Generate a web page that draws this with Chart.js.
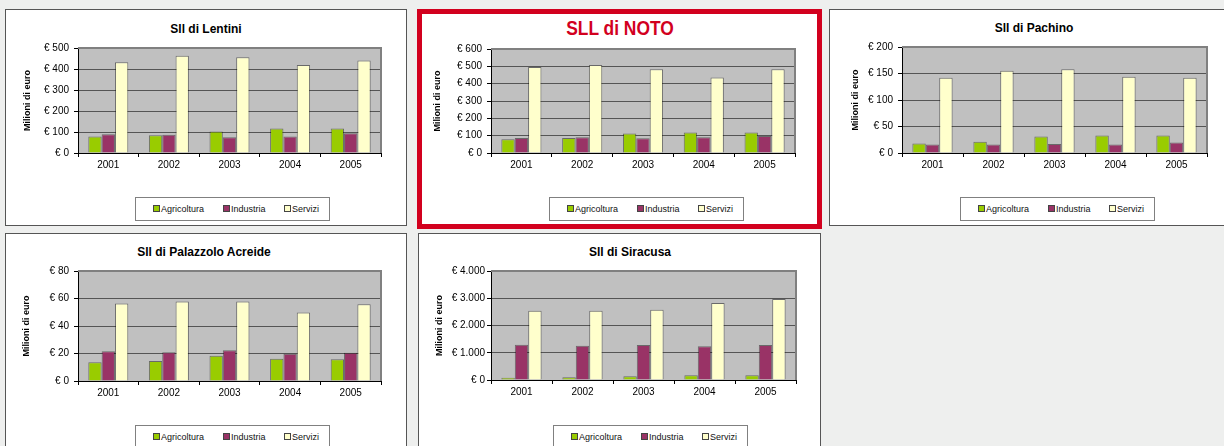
<!DOCTYPE html>
<html>
<head>
<meta charset="utf-8">
<script src="https://cdn.jsdelivr.net/npm/chart.js@4.4.0/dist/chart.umd.min.js"></script>
<style>
  html, body { margin: 0; padding: 0; }
  body { width: 1224px; height: 446px; overflow: hidden; background: #eeefee; position: relative;
         font-family: "Liberation Sans", Arial, sans-serif; }
  .panel { position: absolute; background: #fff; border: 1px solid #555; box-sizing: border-box; }
  .panel.red { border: 5px solid #d2001e; }
  canvas { position: absolute; }
  .title { position: absolute; width: 400px; text-align: center; font-weight: bold; color: #000; white-space: nowrap; }
  .legend { position: absolute; width: 195px; height: 24px; background: #fff; border: 1px solid #808080; box-sizing: border-box; }
  .legend .item { position: absolute; top: 0; height: 22px; line-height: 22px; font-size: 9px; color: #111; white-space: nowrap; }
  .legend .sw { display: inline-block; width: 5px; height: 5px; border: 1px solid #444; margin-right: 1px; vertical-align: -0px; }
</style>
</head>
<body>
<script>
// Categories and series
const years = ['2001', '2002', '2003', '2004', '2005'];
const seriesNames = ['Agricoltura', 'Industria', 'Servizi'];
const seriesColors = ['#99cc00', '#993366', '#ffffcc'];

// SLL di Lentini
const lentiniAgri = [79, 84, 102, 117, 117];
const lentiniInd = [89, 87, 75, 79, 94];
const lentiniServ = [432, 463, 456, 419, 440];

// SLL di Noto
const notoAgri = [79, 87, 112, 118, 118];
const notoInd = [87, 91, 85, 91, 98];
const notoServ = [496, 508, 483, 436, 483];

// SLL di Pachino
const pachinoAgri = [18, 21, 31, 33, 33];
const pachinoInd = [16, 16, 17, 16, 20];
const pachinoServ = [142, 155, 158, 144, 142];

// SLL di Palazzolo Acreide
const palazzoloAgri = [13.7, 14.5, 18.3, 16.1, 15.9];
const palazzoloInd = [21.7, 21.0, 22.4, 19.8, 20.5];
const palazzoloServ = [56.4, 57.8, 57.8, 49.9, 55.9];

// SLL di Siracusa
const siracusaAgri = [86, 98, 135, 171, 171];
const siracusaInd = [1297, 1260, 1284, 1235, 1284];
const siracusaServ = [2544, 2544, 2581, 2826, 2972];

// Axis ranges
const axisMax = [500, 600, 200, 80, 4000];
const axisStep = [100, 100, 50, 20, 1000];
const titles = ['Sll di Lentini', 'SLL di NOTO', 'Sll di Pachino', 'Sll di Palazzolo Acreide', 'Sll di Siracusa'];
const yTitle = 'Milioni di euro';

// Panel placement (page pixels): box, plot area, title centre, legend box, y title x
const panels = [
  { box: [5, 9, 407, 226], plot: [78, 48, 381, 153], title: [206, 29], legend: [135, 197], yTitleX: 28, tickPad: 5,
    data: [lentiniAgri, lentiniInd, lentiniServ] },
  { box: [417, 9, 822, 229], plot: [491, 49, 795, 153], title: [620, 28], legend: [549, 197], yTitleX: 437.5, tickPad: 5,
    data: [notoAgri, notoInd, notoServ], red: true },
  { box: [829, 9, 1240, 226], plot: [902, 47, 1207, 153], title: [1034, 28], legend: [960, 197], yTitleX: 856, tickPad: 5,
    data: [pachinoAgri, pachinoInd, pachinoServ] },
  { box: [5, 233, 407, 452], plot: [78, 271, 381, 381], title: [204, 252], legend: [135, 425], yTitleX: 26.5, tickPad: 5,
    data: [palazzoloAgri, palazzoloInd, palazzoloServ] },
  { box: [418, 233, 821, 452], plot: [491, 271, 796, 380], title: [630, 252], legend: [553, 425], yTitleX: 439.5, tickPad: 2,
    data: [siracusaAgri, siracusaInd, siracusaServ] }
];

// Italian number format: € 4.000
function euro(v) {
  return '€ ' + String(v).replace(/\B(?=(\d{3})+(?!\d))/g, '.');
}

// Grey 'wall' behind the bars, with darker top/right edge
const wallPlugin = {
  id: 'wall',
  beforeDraw(chart) {
    const a = chart.chartArea;
    const ctx = chart.ctx;
    ctx.save();
    ctx.fillStyle = '#c0c0c0';
    ctx.fillRect(a.left, a.top, a.right - a.left, a.bottom - a.top);
    ctx.restore();
  },
  beforeDatasetsDraw(chart) {
    const a = chart.chartArea;
    const ctx = chart.ctx;
    ctx.save();
    ctx.strokeStyle = '#808080';
    ctx.lineWidth = 2;
    ctx.beginPath();
    ctx.moveTo(a.left, a.top);
    ctx.lineTo(a.right, a.top);
    ctx.lineTo(a.right, a.bottom);
    ctx.stroke();
    ctx.restore();
  }
};

function addDiv(cls, css, text) {
  const d = document.createElement('div');
  d.className = cls;
  Object.assign(d.style, css);
  if (text) d.textContent = text;
  document.body.appendChild(d);
  return d;
}

panels.forEach((p, i) => {
  const [bx0, by0, bx1, by1] = p.box;
  const [px0, py0, px1, py1] = p.plot;
  const w = bx1 - bx0, h = by1 - by0;

  addDiv('panel' + (p.red ? ' red' : ''), { left: bx0 + 'px', top: by0 + 'px', width: w + 'px', height: h + 'px' });

  // title (the NOTO one is big, red and a bit condensed)
  const fs = p.red ? 20 : 12;
  addDiv('title', { left: (p.title[0] - 200) + 'px', top: (p.title[1] - fs * 0.6) + 'px',
    fontSize: fs + 'px', lineHeight: (fs * 1.2) + 'px', color: p.red ? '#d2001e' : '#000',
    transform: p.red ? 'scaleX(0.87)' : 'none' }, titles[i]);

  // legend
  const lg = addDiv('legend', { left: p.legend[0] + 'px', top: p.legend[1] + 'px' });
  const offs = [17, 87, 148];
  seriesNames.forEach((name, k) => {
    const it = document.createElement('div');
    it.className = 'item';
    it.style.left = offs[k] + 'px';
    const sw = document.createElement('span');
    sw.className = 'sw';
    sw.style.background = seriesColors[k];
    it.appendChild(sw);
    it.appendChild(document.createTextNode(name));
    lg.appendChild(it);
  });

  // chart canvas covers the panel box
  const cv = document.createElement('canvas');
  cv.width = w; cv.height = h;
  cv.style.left = bx0 + 'px'; cv.style.top = by0 + 'px';
  cv.style.width = w + 'px'; cv.style.height = h + 'px';
  document.body.appendChild(cv);

  const yWidth = px0 - bx0;
  const xHeight = by1 - py1;

  new Chart(cv.getContext('2d'), {
    type: 'bar',
    data: {
      labels: years,
      datasets: seriesNames.map((name, k) => ({
        label: name,
        data: p.data[k],
        backgroundColor: seriesColors[k],
        borderColor: 'rgba(0,0,0,0.45)',
        borderWidth: 1,
        categoryPercentage: 0.66,
        barPercentage: 1.0
      }))
    },
    options: {
      responsive: false,
      animation: false,
      devicePixelRatio: 1,
      layout: { padding: { left: 0, top: py0 - by0, right: bx1 - px1, bottom: 0 } },
      plugins: { legend: { display: false }, title: { display: false }, tooltip: { enabled: false } },
      scales: {
        x: {
          grid: { drawOnChartArea: false, drawTicks: true, tickLength: 4, tickColor: '#000' },
          border: { color: '#000', width: 1 },
          ticks: { color: '#000', padding: 2, font: { family: '"Liberation Sans", Arial', size: 10 } },
          afterFit(scale) { scale.height = xHeight; }
        },
        y: {
          min: 0,
          max: axisMax[i],
          ticks: { stepSize: axisStep[i], color: '#000', padding: p.tickPad,
                   font: { family: '"Liberation Sans", Arial', size: 10 },
                   callback: (v) => euro(v) },
          grid: { color: '#555', lineWidth: 1, drawTicks: true, tickLength: 4, tickColor: '#000' },
          border: { color: '#000', width: 1 },
          title: { display: true, text: yTitle, color: '#000',
                   font: { family: '"Liberation Sans", Arial', size: 9, weight: 'bold' },
                   padding: { top: p.yTitleX - bx0 - 5.4, bottom: 0 } },
          afterFit(scale) { scale.width = yWidth; }
        }
      }
    },
    plugins: [wallPlugin]
  });
});
</script>
</body>
</html>
